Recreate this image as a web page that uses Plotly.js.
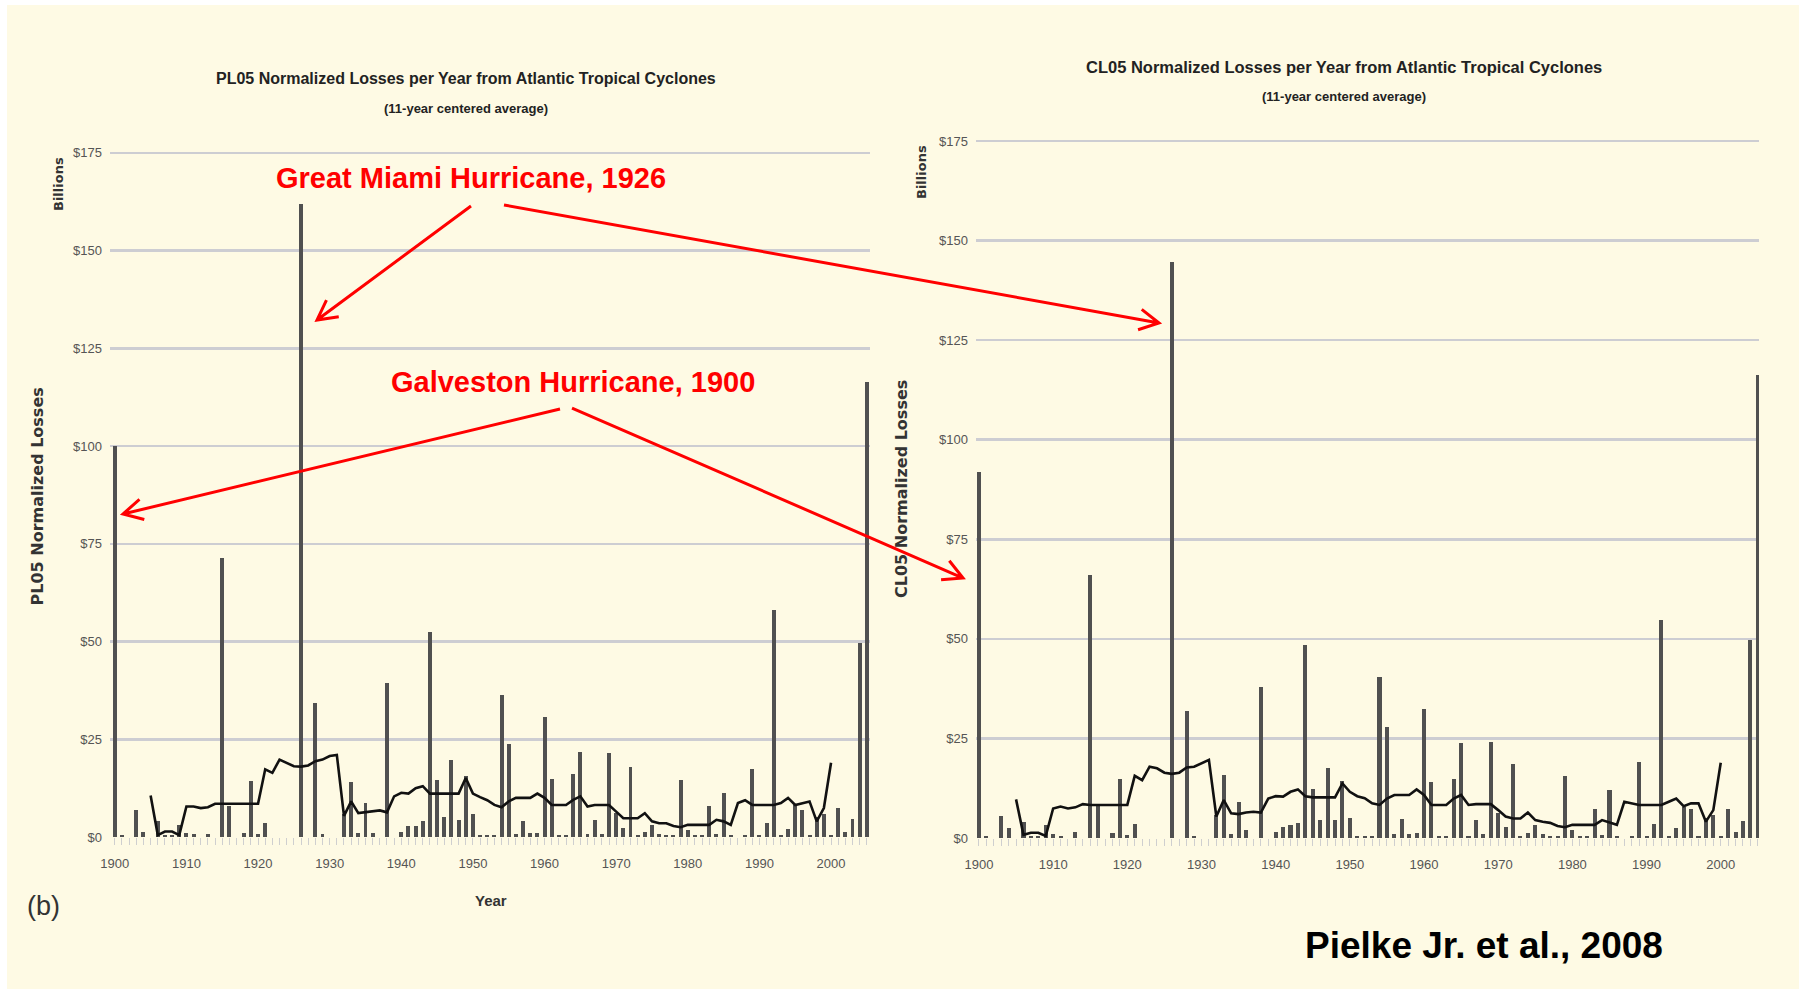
<!DOCTYPE html>
<html>
<head>
<meta charset="utf-8">
<script src="https://cdn.plot.ly/plotly-3.0.1.min.js"></script>
<style>
  html, body { margin: 0; padding: 0; background: #ffffff; }
  #chart { width: 1805px; height: 989px; }
</style>
</head>
<body>
<div id="chart"></div>
<script>
// ---------------- DATA ----------------
const years = [
  1900,1901,1902,1903,1904,1905,1906,1907,1908,1909,
  1910,1911,1912,1913,1914,1915,1916,1917,1918,1919,
  1920,1921,1922,1923,1924,1925,1926,1927,1928,1929,
  1930,1931,1932,1933,1934,1935,1936,1937,1938,1939,
  1940,1941,1942,1943,1944,1945,1946,1947,1948,1949,
  1950,1951,1952,1953,1954,1955,1956,1957,1958,1959,
  1960,1961,1962,1963,1964,1965,1966,1967,1968,1969,
  1970,1971,1972,1973,1974,1975,1976,1977,1978,1979,
  1980,1981,1982,1983,1984,1985,1986,1987,1988,1989,
  1990,1991,1992,1993,1994,1995,1996,1997,1998,1999,
  2000,2001,2002,2003,2004,2005
];

// PL05 normalized losses per year (billions $)
const pl05Losses = [
  100, 0.5, 0, 7, 1.4, 0, 4, 0.6, 0.6, 3.1,
  1, 0.8, 0, 0.8, 0, 71.3, 7.8, 0, 1, 14.3,
  0.8, 3.5, 0, 0, 0, 0, 162, 0, 34.3, 0.7,
  0, 0, 6, 14, 1.1, 8.8, 0.9, 0, 39.4, 0,
  1.4, 2.7, 2.8, 4, 52.5, 14.5, 5, 19.6, 4.4, 15.5,
  5.9, 0.5, 0.5, 0.5, 36.2, 23.7, 0.8, 4.1, 0.9, 0.9,
  30.6, 14.9, 0.5, 0.5, 16, 21.7, 0.7, 4.4, 0.8, 21.6,
  6.1, 2.2, 17.9, 0.5, 1.4, 3.1, 0.8, 0.5, 0.5, 14.5,
  1.8, 0.5, 0.5, 7.8, 0.7, 11.3, 0.4, 0, 0.6, 17.3,
  0.5, 3.5, 58, 0.5, 2, 8.2, 7, 0.5, 5, 6,
  0.5, 7.4, 1.4, 4.6, 49.6, 116.4
];

// PL05 11-year centered average (1905-2000)
const pl05Avg = [
  null, null, null, null, null, 10.6, 0.5, 1.4, 1.4, 0.5,
  7.8, 7.8, 7.4, 7.6, 8.5, 8.5, 8.5, 8.5, 8.5, 8.5,
  8.5, 17.3, 16.4, 19.8, 19, 18.1, 18, 18.3, 19.4, 19.8,
  20.7, 21, 5.4, 9.1, 6.1, 6.3, 6.5, 6.8, 6.3, 10.4,
  11.3, 11.1, 12.5, 13, 11.1, 11.1, 11.1, 11.1, 11.1, 15.1,
  11.1, 10.2, 9.4, 8.2, 7.6, 9.1, 10, 10, 10, 11.1,
  10, 8.2, 8.2, 8.2, 9.5, 10.4, 7.8, 8.2, 8.2, 8.2,
  6.5, 4.8, 4.8, 4.8, 6.1, 4, 3.5, 3.5, 2.8, 2.5,
  3.1, 3.1, 3.1, 3.1, 4.4, 4, 3.1, 8.7, 9.4, 8.2,
  8.2, 8.2, 8.2, 8.7, 10, 8.2, 8.7, 9.1, 4, 7.4,
  19, null, null, null, null, null
];

// CL05 normalized losses per year (billions $)
const cl05Losses = [
  92, 0.6, 0, 5.4, 2.4, 0, 4.1, 0.5, 0.5, 3.3,
  1, 0.6, 0, 1.6, 0, 66, 8, 0, 1.3, 14.7,
  0.8, 3.5, 0, 0, 0, 0, 144.5, 0, 31.9, 0.6,
  0, 0, 5.8, 15.8, 1, 9.1, 2, 0, 38, 0,
  1.6, 2.8, 3.3, 3.7, 48.5, 12.2, 4.5, 17.7, 4.5, 14.4,
  5.1, 0.6, 0.6, 0.5, 40.5, 27.9, 1, 4.7, 1, 1.2,
  32.5, 14.1, 0.5, 0.5, 14.7, 23.9, 0.6, 4.5, 1, 24.2,
  6.2, 2.7, 18.7, 0.5, 1.3, 3.3, 1, 0.6, 0.5, 15.6,
  2, 0.5, 0.5, 7.4, 0.8, 12, 0.5, 0, 0.5, 19.1,
  0.5, 3.5, 54.7, 0.5, 2.4, 7.9, 7.4, 0.5, 4.9, 5.8,
  0.5, 7.2, 1.6, 4.3, 49.7, 116.2
];

// CL05 11-year centered average (1905-2000)
const cl05Avg = [
  null, null, null, null, null, 9.7, 0.8, 1.3, 1.3, 0.5,
  7.4, 7.9, 7.4, 7.7, 8.5, 8.3, 8.3, 8.3, 8.3, 8.3,
  8.3, 15.6, 14.5, 17.9, 17.5, 16.4, 16.1, 16.4, 17.7, 17.9,
  18.7, 19.6, 5.4, 9.5, 6.2, 6, 6.4, 6.6, 6.4, 9.9,
  10.5, 10.4, 11.6, 12.2, 10.5, 10.2, 10.2, 10.2, 10.2, 13.7,
  11.6, 10.5, 10, 8.7, 8.3, 9.9, 10.8, 10.8, 10.8, 12.2,
  10.8, 8.3, 8.3, 8.3, 9.9, 10.8, 8.3, 8.5, 8.5, 8.5,
  7, 5.4, 4.9, 4.9, 6.4, 4.5, 4.1, 3.8, 3, 2.7,
  3.3, 3.3, 3.3, 3.3, 4.5, 3.8, 3.3, 9.1, 8.7, 8.3,
  8.3, 8.3, 8.3, 9.1, 9.9, 8, 8.7, 8.7, 4.1, 7,
  18.9, null, null, null, null, null
];

const yTickVals = [0, 25, 50, 75, 100, 125, 150, 175];
const yTickText = ["$0", "$25", "$50", "$75", "$100", "$125", "$150", "$175"];
const xTickVals = [1900, 1910, 1920, 1930, 1940, 1950, 1960, 1970, 1980, 1990, 2000];
const xTickText = ["1900", "1910", "1920", "1930", "1940", "1950", "1960", "1970", "1980", "1990", "2000"];

// ---------------- STYLE / LAYOUT ----------------
const W = 1805, H = 989;
const fx = p => p / W;
const fy = p => 1 - p / H;

const CREAM = '#fefae4';
const BAR = '#505050';
const GRID = '#cdcdd2';
const NARROW = "'Liberation Sans Narrow', 'Arial Narrow', 'Liberation Sans', Arial, sans-serif";
const WIDE = "'DejaVu Sans', Verdana, sans-serif";
const SANS = "'Liberation Sans', Arial, sans-serif";

const barTrace = (y, xa, ya) => ({
  type: 'bar', x: years, y: y, xaxis: xa, yaxis: ya,
  width: 0.55, marker: { color: BAR, line: { width: 0 } },
  hoverinfo: 'x+y', showlegend: false
});
const lineTrace = (y, xa, ya) => ({
  type: 'scatter', mode: 'lines', x: years, y: y, xaxis: xa, yaxis: ya,
  line: { color: '#111111', width: 2.6, shape: 'linear' },
  connectgaps: false, showlegend: false
});

const data = [
  barTrace(pl05Losses, 'x', 'y'),
  lineTrace(pl05Avg, 'x', 'y'),
  barTrace(cl05Losses, 'x2', 'y2'),
  lineTrace(cl05Avg, 'x2', 'y2')
];

const xAxisBase = (domain, range) => ({
  domain: domain, range: range, tickmode: 'array',
  tickvals: xTickVals, ticktext: xTickText,
  ticks: 'outside', ticklen: 7, tickwidth: 1, tickcolor: '#cfcfcf',
  minor: { dtick: 1, tick0: 1900, ticks: 'outside', ticklen: 7, tickwidth: 1, tickcolor: '#cfcfcf', showgrid: false },
  ticklabelstandoff: 7,
  showgrid: false, zeroline: false, showline: false,
  tickfont: { family: NARROW, size: 13, color: '#555555' },
  fixedrange: true
});
// y range a bit above $175 so the $175 gridline is drawn
const yAxisBase = (domain, anchor) => ({
  domain: domain, range: [0, 176], anchor: anchor, tickmode: 'array',
  tickvals: yTickVals, ticktext: yTickText,
  ticks: '', ticklabelstandoff: 7,
  showgrid: true, gridcolor: GRID, gridwidth: 2.5,
  zeroline: false, showline: false,
  tickfont: { family: NARROW, size: 13, color: '#555555' },
  fixedrange: true
});

const leftX = xAxisBase([fx(110), fx(870)], [1899.33, 2005.44]);
leftX.anchor = 'y';
const rightX = xAxisBase([fx(976), fx(1759)], [1899.6, 2005.16]);
rightX.anchor = 'y2';

function arrowShape(x0, y0, x1, y1) {
  const ang = Math.atan2(y1 - y0, x1 - x0);
  const L = 22, a = 28 * Math.PI / 180;
  const h1x = x1 - L * Math.cos(ang - a), h1y = y1 - L * Math.sin(ang - a);
  const h2x = x1 - L * Math.cos(ang + a), h2y = y1 - L * Math.sin(ang + a);
  const P = (x, y) => fx(x).toFixed(5) + ',' + fy(y).toFixed(5);
  return {
    type: 'path', xref: 'paper', yref: 'paper', layer: 'above',
    path: 'M' + P(x0, y0) + ' L' + P(x1, y1) + ' M' + P(h1x, h1y) + ' L' + P(x1, y1) + ' L' + P(h2x, h2y),
    line: { color: '#ff0000', width: 3 }
  };
}

const shapes = [
  { type: 'rect', xref: 'paper', yref: 'paper', layer: 'below',
    x0: fx(7), x1: fx(1799), y0: fy(989), y1: fy(5),
    fillcolor: CREAM, line: { width: 0 } },
  arrowShape(471, 206, 317, 320),
  arrowShape(504, 205, 1159, 323),
  arrowShape(560, 409, 123, 514),
  arrowShape(572, 408, 963, 578)
];

const ann = (x, y, text, font, extra) => Object.assign({
  xref: 'paper', yref: 'paper', x: fx(x), y: fy(y), text: text,
  showarrow: false, xanchor: 'center', yanchor: 'middle', font: font
}, extra || {});

const annotations = [
  ann(466, 78, '<b>PL05 Normalized Losses per Year from Atlantic Tropical Cyclones</b>', { family: NARROW, size: 16, color: '#222222' }),
  ann(466, 108, '<b>(11-year centered average)</b>', { family: NARROW, size: 13, color: '#222222' }),
  ann(1344, 67, '<b>CL05 Normalized Losses per Year from Atlantic Tropical Cyclones</b>', { family: NARROW, size: 16.5, color: '#222222' }),
  ann(1344, 97, '<b>(11-year centered average)</b>', { family: NARROW, size: 13, color: '#222222' }),
  ann(36.5, 497, '<b>PL05 Normalized Losses</b>', { family: WIDE, size: 16, color: '#333333' }, { textangle: -90 }),
  ann(58, 184, '<b>Billions</b>', { family: WIDE, size: 13, color: '#333333' }, { textangle: -90 }),
  ann(901, 489, '<b>CL05 Normalized Losses</b>', { family: WIDE, size: 16, color: '#333333' }, { textangle: -90 }),
  ann(921, 172, '<b>Billions</b>', { family: WIDE, size: 13, color: '#333333' }, { textangle: -90 }),
  ann(491, 900, '<b>Year</b>', { family: NARROW, size: 15, color: '#333333' }),
  ann(43, 906, '(b)', { family: SANS, size: 27, color: '#333333' }),
  ann(471, 178, '<b>Great Miami Hurricane, 1926</b>', { family: SANS, size: 29, color: '#ff0000' }),
  ann(573, 382, '<b>Galveston Hurricane, 1900</b>', { family: SANS, size: 29, color: '#ff0000' }),
  ann(1484, 945, '<b>Pielke Jr. et al., 2008</b>', { family: SANS, size: 37, color: '#000000' })
];

const layout = {
  width: W, height: H,
  margin: { l: 0, r: 0, t: 0, b: 0, pad: 0 },
  paper_bgcolor: '#ffffff', plot_bgcolor: 'rgba(0,0,0,0)',
  showlegend: false, bargap: 0,
  xaxis: leftX,
  yaxis: yAxisBase([fy(837), fy(837 - 176 * 3.910)], 'x'),
  xaxis2: rightX,
  yaxis2: yAxisBase([fy(838), fy(838 - 176 * 3.983)], 'x2'),
  shapes: shapes,
  annotations: annotations
};

Plotly.newPlot('chart', data, layout, { displayModeBar: false, staticPlot: true });
</script>
</body>
</html>
